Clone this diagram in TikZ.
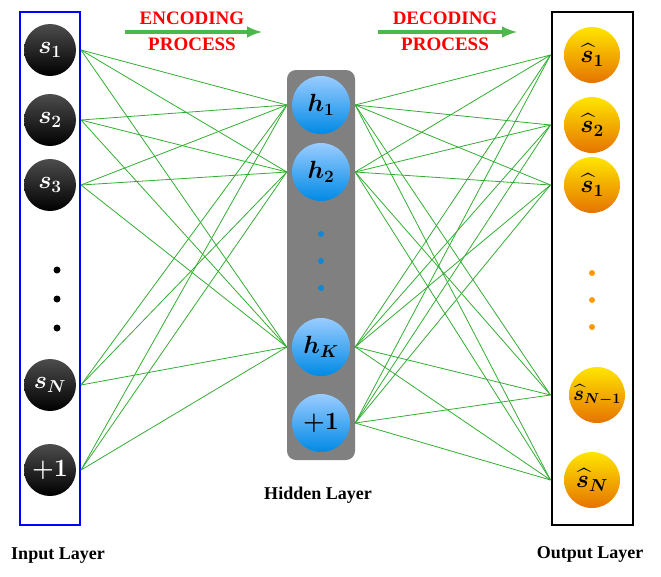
\documentclass[tikz,border=0pt]{standalone}
\usepackage{fontspec}
\setmainfont{Liberation Serif}
\usepackage{amsmath,bm}
\begin{document}
\begin{tikzpicture}[x=1pt,y=-1pt,
  inn/.style={circle,minimum size=52pt,inner sep=0pt,top color=black!70,bottom color=black,text=white,font=\fontsize{27}{27}\selectfont},
  hid/.style={circle,minimum size=58pt,inner sep=0pt,top color=cyan!50!blue!40,bottom color=cyan!60!blue!90!black,text=black,font=\fontsize{27}{27}\selectfont},
  outn/.style={circle,minimum size=56pt,inner sep=0pt,top color=yellow!80!orange,bottom color=orange!90!black,text=black,font=\fontsize{25}{25}\selectfont},
  dotb/.style={circle,fill=black,inner sep=0pt,minimum size=7pt},
  doth/.style={circle,fill=cyan!70!blue,inner sep=0pt,minimum size=6pt},
  doto/.style={circle,fill=orange!80!yellow,inner sep=0pt,minimum size=6pt},
  conn/.style={green!60!black!80,line width=0.8pt},
  lab/.style={font=\fontsize{18}{18}\selectfont\bfseries},
  proc/.style={font=\fontsize{19}{26}\selectfont\bfseries,text=red,align=center,inner sep=0pt},
  garrow/.style={-latex,line width=4pt,green!60!black!70}]
\useasboundingbox (0,0) rectangle (661,576);
% boxes
\node[draw=blue,line width=2pt,minimum width=60pt,minimum height=513pt,inner sep=0pt] (ibox) at (50,268) {};
\node[fill=black!50,rounded corners=9pt,minimum width=68pt,minimum height=390pt,inner sep=0pt] (hbox) at (321,265) {};
\node[draw=black,line width=2pt,minimum width=81pt,minimum height=513pt,inner sep=0pt] (obox) at (592,268) {};
% input
\node[inn] (i1) at (50,50) {$\bm{s_1}$};
\node[inn] (i2) at (50,120) {$\bm{s_2}$};
\node[inn] (i3) at (50,185) {$\bm{s_3}$};
\node[dotb] (id1) at (57,270) {};
\node[dotb] (id2) at (57,299) {};
\node[dotb] (id3) at (57,328) {};
\node[inn] (i4) at (50,385) {$\bm{s_N}$};
\node[inn] (i5) at (50,470) {$\bm{+1}$};
% hidden
\node[hid] (h1) at (321,105) {$\bm{h_1}$};
\node[hid] (h2) at (321,172) {$\bm{h_2}$};
\node[doth] (hd1) at (321,234) {};
\node[doth] (hd2) at (321,261) {};
\node[doth] (hd3) at (321,288) {};
\node[hid] (h3) at (321,347) {$\bm{h_K}$};
\node[hid] (h4) at (321,423) {$\bm{+1}$};
% output
\node[outn] (o1) at (592,55) {$\bm{\widehat{s}_1}$};
\node[outn] (o2) at (592,125) {$\bm{\widehat{s}_2}$};
\node[outn] (o3) at (592,185) {$\bm{\widehat{s}_1}$};
\node[doto] (od1) at (592,273) {};
\node[doto] (od2) at (592,300) {};
\node[doto] (od3) at (592,327) {};
\node[outn,font=\fontsize{22}{22}\selectfont] (o4) at (597,395) {$\bm{\widehat{s}_{N-1}}$};
\node[outn] (o5) at (592,480) {$\bm{\widehat{s}_N}$};
% connections
\foreach \a in {i1,i2,i3,i4,i5}
  \foreach \b in {h1,h2,h3}
    \draw[conn] (ibox.east |- \a) -- (hbox.west |- \b);
\foreach \a in {h1,h2,h3,h4}
  \foreach \b in {o1,o2,o3,o4,o5}
    \draw[conn] (hbox.east |- \a) -- (obox.west |- \b);
% process labels
\coordinate (ea) at (125,32); \coordinate (eb) at (262,32);
\coordinate (da) at (378,32); \coordinate (db) at (517,32);
\draw[garrow] (ea) -- (eb);
\draw[garrow] (da) -- (db);
\node[proc] (enc) at (192,31) {ENCODING\\PROCESS};
\node[proc] (dec) at (445,31) {DECODING\\PROCESS};
% layer labels
\node[lab] (li) at (58,556) {Input Layer};
\node[lab] (lh) at (318,495) {Hidden Layer};
\node[lab] (lo) at (590,554) {Output Layer};
\end{tikzpicture}
\end{document}
